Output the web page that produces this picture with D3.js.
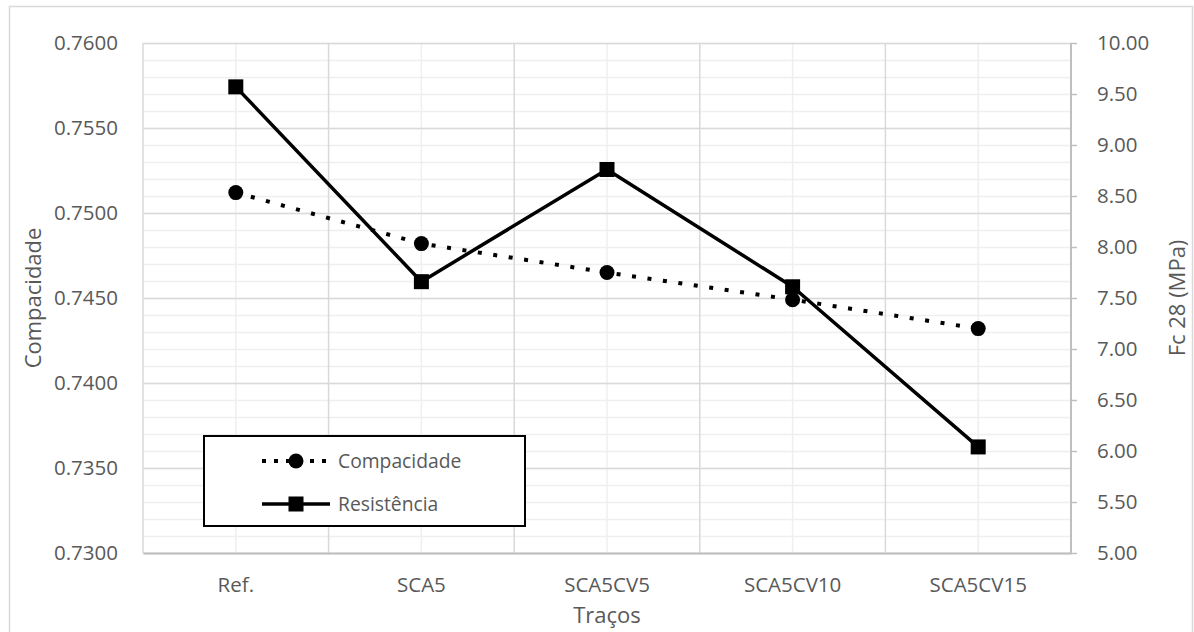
<!DOCTYPE html>
<html>
<head>
<meta charset="utf-8">
<script src="https://cdn.jsdelivr.net/npm/d3@7"></script>
<style>
  html, body { margin: 0; padding: 0; background: #fff; }
  svg { display: block; }
  svg text { font-family: "Open Sans", "Noto Sans", sans-serif; }
</style>
</head>
<body>
<svg id="chart" width="1194" height="632"></svg>
<script>
// Mix designs (traços) and measured values
const categories = ["Ref.", "SCA5", "SCA5CV5", "SCA5CV10", "SCA5CV15"];
const compacidade = [0.7512, 0.7482, 0.7465, 0.7449, 0.7432];
const resistencia = [9.57, 7.66, 8.76, 7.61, 6.04];
const leftTicks = [0.7300, 0.7350, 0.7400, 0.7450, 0.7500, 0.7550, 0.7600];
const rightTicks = [5.0, 5.5, 6.0, 6.5, 7.0, 7.5, 8.0, 8.5, 9.0, 9.5, 10.0];
const leftMinor = d3.range(0, 31).map(i => 0.730 + i * 0.001);

const svg = d3.select("#chart");
const W = 1194, H = 632;
const plot = { left: 143, right: 1071, top: 43, bottom: 553 };
const textColor = "#595959";
const font = '"Open Sans", "Noto Sans", sans-serif';

// outer chart frame
svg.append("rect")
  .attr("x", 9.5).attr("y", 6.5)
  .attr("width", W - 11).attr("height", H)
  .attr("fill", "#fff").attr("stroke", "#d9d9d9").attr("stroke-width", 1.5);

const x = d3.scaleBand().domain(categories).range([plot.left, plot.right]).padding(0);
const yL = d3.scaleLinear().domain([0.730, 0.760]).range([plot.bottom, plot.top]);
const yR = d3.scaleLinear().domain([5, 10]).range([plot.bottom, plot.top]);

const grid = svg.append("g");
// minor horizontal gridlines
grid.selectAll("line.hmin").data(leftMinor).join("line")
  .attr("x1", plot.left).attr("x2", plot.right)
  .attr("y1", d => Math.round(yL(d)) + 0.5).attr("y2", d => Math.round(yL(d)) + 0.5)
  .attr("stroke", "#efefef").attr("stroke-width", 1.5);
// minor vertical gridlines at category centres
grid.selectAll("line.vmin").data(categories).join("line")
  .attr("x1", d => x(d) + x.bandwidth() / 2).attr("x2", d => x(d) + x.bandwidth() / 2)
  .attr("y1", plot.top).attr("y2", plot.bottom)
  .attr("stroke", "#efefef").attr("stroke-width", 1.5);
// major horizontal gridlines
grid.selectAll("line.hmaj").data(leftTicks).join("line")
  .attr("x1", plot.left).attr("x2", plot.right)
  .attr("y1", d => Math.round(yL(d)) + 0.5).attr("y2", d => Math.round(yL(d)) + 0.5)
  .attr("stroke", "#d9d9d9").attr("stroke-width", 1.5);
// major vertical gridlines at category boundaries
const bounds = categories.map(c => x(c)).concat([plot.right]);
grid.selectAll("line.vmaj").data(bounds).join("line")
  .attr("x1", d => d).attr("x2", d => d)
  .attr("y1", plot.top).attr("y2", plot.bottom)
  .attr("stroke", "#d9d9d9").attr("stroke-width", 1.5);

// bottom category axis
const xAxis = svg.append("g").attr("transform", `translate(0,${plot.bottom})`)
  .call(d3.axisBottom(x).tickSize(0).tickPadding(24));
xAxis.attr("font-family", font);
xAxis.select(".domain").attr("stroke", "#bfbfbf").attr("stroke-width", 2);
xAxis.selectAll("text").attr("fill", textColor).style("font-size", "20.5px");

// left value axis
const leftAxis = svg.append("g").attr("transform", `translate(${plot.left},0)`)
  .call(d3.axisLeft(yL).tickValues(leftTicks).tickSize(0).tickPadding(25).tickFormat(d3.format(".4f")));
leftAxis.attr("font-family", font);
leftAxis.select(".domain").remove();
leftAxis.selectAll("text").attr("fill", textColor).style("font-size", "20.5px");

// right value axis
const rightAxis = svg.append("g").attr("transform", `translate(${plot.right},0)`)
  .call(d3.axisRight(yR).tickValues(rightTicks).tickSize(6).tickPadding(20).tickFormat(d3.format(".2f")));
rightAxis.attr("font-family", font);
rightAxis.select(".domain").attr("stroke", "#bfbfbf").attr("stroke-width", 2).attr("d", `M0,${plot.top}V${plot.bottom}`);
rightAxis.selectAll(".tick line").attr("stroke", "#bfbfbf").attr("stroke-width", 1.5);
rightAxis.selectAll("text").attr("fill", textColor).style("font-size", "20.5px");

// axis titles
svg.append("text").attr("x", (plot.left + plot.right) / 2).attr("y", 623)
  .attr("text-anchor", "middle").attr("fill", textColor).style("font-size", "22px").text("Traços");
svg.append("text").attr("transform", `translate(41,${(plot.top + plot.bottom) / 2}) rotate(-90)`)
  .attr("text-anchor", "middle").attr("fill", textColor).style("font-size", "22px").text("Compacidade");
svg.append("text").attr("transform", `translate(1185,${(plot.top + plot.bottom) / 2}) rotate(-90)`)
  .attr("text-anchor", "middle").attr("fill", textColor).style("font-size", "22px").text("Fc 28 (MPa)");

const cx = d => x(d) + x.bandwidth() / 2;

// Compacidade series: dotted line with round markers
const compData = categories.map((c, i) => ({ c, v: compacidade[i] }));
svg.append("path").datum(compData)
  .attr("d", d3.line().x(d => cx(d.c)).y(d => yL(d.v)))
  .attr("fill", "none").attr("stroke", "#000").attr("stroke-width", 4)
  .attr("stroke-dasharray", "4 11.6");
svg.selectAll("circle.comp").data(compData).join("circle")
  .attr("cx", d => cx(d.c)).attr("cy", d => yL(d.v)).attr("r", 7.5).attr("fill", "#000");

// Resistência series: solid line with square markers
const resData = categories.map((c, i) => ({ c, v: resistencia[i] }));
svg.append("path").datum(resData)
  .attr("d", d3.line().x(d => cx(d.c)).y(d => yR(d.v)))
  .attr("fill", "none").attr("stroke", "#000").attr("stroke-width", 3.5).attr("stroke-linejoin", "round");
svg.selectAll("rect.res").data(resData).join("rect")
  .attr("x", d => cx(d.c) - 7.5).attr("y", d => yR(d.v) - 7.5)
  .attr("width", 15).attr("height", 15).attr("fill", "#000");

// legend
const lg = svg.append("g");
lg.append("rect").attr("x", 204).attr("y", 436).attr("width", 321).attr("height", 90)
  .attr("fill", "#fff").attr("stroke", "#000").attr("stroke-width", 2);
lg.append("line").attr("x1", 262).attr("x2", 330).attr("y1", 461).attr("y2", 461)
  .attr("stroke", "#000").attr("stroke-width", 4).attr("stroke-dasharray", "4 8");
lg.append("circle").attr("cx", 296).attr("cy", 461).attr("r", 7.5).attr("fill", "#000");
lg.append("text").attr("x", 338).attr("y", 468).attr("fill", textColor).style("font-size", "19.3px").text("Compacidade");
lg.append("line").attr("x1", 262).attr("x2", 330).attr("y1", 504).attr("y2", 504)
  .attr("stroke", "#000").attr("stroke-width", 3.5);
lg.append("rect").attr("x", 288.5).attr("y", 496.5).attr("width", 15).attr("height", 15).attr("fill", "#000");
lg.append("text").attr("x", 338).attr("y", 511).attr("fill", textColor).style("font-size", "19.3px").text("Resistência");
</script>
</body>
</html>
